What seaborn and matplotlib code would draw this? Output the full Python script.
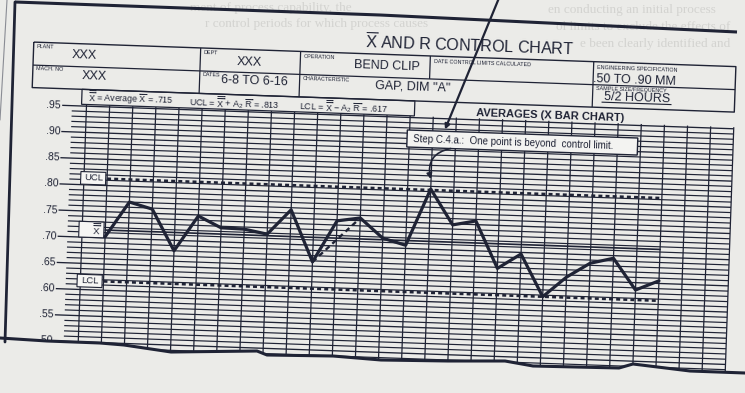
import numpy as np
import pandas as pd
import matplotlib
matplotlib.use("Agg")
import matplotlib.pyplot as plt
from matplotlib import font_manager
from matplotlib.transforms import Affine2D
from matplotlib.patches import Rectangle, FancyArrowPatch, Polygon
import seaborn as sns

# ---------------- data ----------------
subgroup = list(range(1, 26))
xbar = [0.702, 0.770, 0.758, 0.680, 0.748, 0.727, 0.726, 0.718, 0.766, 0.668,
        0.748, 0.755, 0.718, 0.706, 0.815, 0.748, 0.757, 0.668, 0.697, 0.617,
        0.656, 0.684, 0.695, 0.636, 0.655]
revised_from, revised_to = 10, 12
grand_mean = 0.715
ucl = 0.813
lcl = 0.617
y_tick_values = [0.95, 0.90, 0.85, 0.80, 0.75, 0.70, 0.65, 0.60, 0.55, 0.50]
y_tick_labels = [".95", ".90", ".85", ".80", ".75", ".70", ".65", ".60", ".55", ".50"]

# ---------------- style ----------------
sns.set_theme(style="white")
names = {f.name for f in font_manager.fontManager.ttflist}
SANS = "Liberation Sans" if "Liberation Sans" in names else "DejaVu Sans"
NARROW = "Liberation Sans Narrow" if "Liberation Sans Narrow" in names else SANS
SERIF = "Liberation Serif" if "Liberation Serif" in names else "DejaVu Serif"
plt.rcParams["font.family"] = [SANS, "DejaVu Sans"]
plt.rcParams["mathtext.fontset"] = "custom"
plt.rcParams["mathtext.rm"] = SANS
plt.rcParams["mathtext.it"] = SANS + ":italic"
plt.rcParams["mathtext.bf"] = SANS + ":bold"

INK = "#1f2335"
PAPER = "#ebebe8"
W, H = 745, 393
ROT = -2.0
R = Affine2D().rotate_deg_around(372, H - 200, ROT)

fig = plt.figure(figsize=(W / 100, H / 100), dpi=100, facecolor=PAPER)

# background page (faint bleed-through text)
ax_bg = fig.add_axes([0, 0, 1, 1], zorder=0)
ax_bg.set_xlim(0, W); ax_bg.set_ylim(H, 0); ax_bg.axis("off")
bleed = [(190, 8, "ment of process capability, the"),
         (205, 24, "r control periods for which process causes"),
         (548, 10, "en conducting an initial process"),
         (556, 27, "ol limits to exclude the effects of"),
         (580, 44, "e been clearly identified and")]
for bx, by, bs in bleed:
    ax_bg.text(bx, by, bs, family=SERIF, fontsize=9.5, color="#d3d3d0",
               va="center", ha="left", clip_on=True)

# ---------------- chart axes ----------------
U1, US = 106.5, 23.13      # pixel of subgroup 1, pixel per subgroup
V70, VS = 247.2, 524.0     # pixel of value .70, pixel per unit value
xl = (-2.0, 28.5)
yl = (0.45, 0.97)
u_l = U1 + US * (xl[0] - 1); u_r = U1 + US * (xl[1] - 1)
v_b = V70 + (0.70 - yl[0]) * VS; v_t = V70 + (0.70 - yl[1]) * VS
ax = fig.add_axes([u_l / W, (H - v_b) / H, (u_r - u_l) / W, (v_b - v_t) / H], zorder=1)

# grid
minor = np.round(np.arange(0.47, 0.955, 0.01), 2)
is_major = np.array([np.any(np.isclose(m, y_tick_values)) for m in minor])
ax.hlines(minor[~is_major], -0.63, 28.0, color=INK, lw=0.85)
ax.hlines(minor[is_major], -1.05, 28.0, color=INK, lw=0.95)
ax.vlines(np.arange(0, 29), 0.455, 0.953, color=INK, lw=0.9)
for val, lab in zip(y_tick_values, y_tick_labels):
    ax.text(-1.1, val, lab, ha="right", va="center", fontsize=7.5, color=INK,
            rotation=ROT, rotation_mode="anchor")

# control lines
for val, ls, lw in [(ucl, (0, (1.5, 1.2)), 1.9), (lcl, (0, (1.5, 1.2)), 1.9),
                    (grand_mean, "-", 1.2)]:
    ldf = pd.DataFrame({"subgroup": [subgroup[0], subgroup[-1]], "value": [val, val]})
    sns.lineplot(data=ldf, x="subgroup", y="value", ax=ax, color=INK, linewidth=lw,
                 errorbar=None, legend=False, zorder=3)
    ax.lines[-1].set_linestyle(ls)

# data
df = pd.DataFrame({"subgroup": subgroup, "xbar": xbar})
sns.lineplot(data=df, x="subgroup", y="xbar", ax=ax, color=INK, linewidth=2.3,
             errorbar=None, legend=False, zorder=4)
rev = df[df["subgroup"].between(revised_from, revised_to)].iloc[[0, -1]]
sns.lineplot(data=rev, x="subgroup", y="xbar", ax=ax, color=INK, linewidth=1.7,
             errorbar=None, legend=False, zorder=4)
ax.lines[-1].set_linestyle((0, (2.2, 1.6)))

# limit label boxes
for val, lab, hh, cx in [(ucl, "UCL", 0.012, 0.42), (lcl, "LCL", 0.012, 0.40),
                         (grand_mean, r"$\overline{\overline{\mathrm{X}}}$", 0.015, 0.62)]:
    ax.add_patch(Rectangle((-0.14, val - hh), 1.08, 2 * hh, fc="#f6f6f4", ec=INK, lw=0.8, zorder=5))
    ax.text(cx, val, lab, ha="center", va="center", fontsize=6.8, color=INK, zorder=6,
            rotation=ROT, rotation_mode="anchor")

# annotation
ax.add_patch(Rectangle((13.9, 0.8935), 9.97, 0.0325, fc="#f3f3f1", ec=INK, lw=1.0, zorder=5))
ax.text(14.15, 0.910, "Step C.4.a.:  One point is beyond  control limit.", ha="left",
        va="center", fontsize=7.0, color=INK, family=NARROW, zorder=6,
        rotation=ROT, rotation_mode="anchor")
ax.add_patch(FancyArrowPatch(posA=(15.8, 0.8935), posB=(14.98, 0.834),
                             connectionstyle="arc3,rad=0.5", arrowstyle="-|>",
                             mutation_scale=8, lw=1.2, color=INK, shrinkA=0, shrinkB=0,
                             zorder=6))

ax.set_xlim(*xl); ax.set_ylim(*yl)
ax.axis("off")
for art in list(ax.lines) + list(ax.collections) + list(ax.patches) + list(ax.texts):
    art.set_transform(ax.transData + R)
    art.set_clip_on(False)

# ---------------- overlay: header, frame, tear ----------------
ax_top = fig.add_axes([0, 0, 1, 1], zorder=2)
ax_top.set_xlim(0, W); ax_top.set_ylim(H, 0); ax_top.axis("off")
TR = ax_top.transData + R

def rline(xs, ys, lw=0.9):
    ax_top.plot(xs, ys, color=INK, lw=lw, transform=TR, clip_on=False, solid_capstyle="butt")

def rtext(x, y, s, **kw):
    kw.setdefault("color", INK)
    return ax_top.text(x, y, s, transform=TR, rotation=ROT, rotation_mode="anchor",
                       clip_on=False, **kw)

HL, HR = 28.5, 731.0
HT, HM, HB = 54.0, 77.0, 99.5
rline([HL, HR, HR, HL, HL], [HT, HT, HB, HB, HT], lw=1.0)
rline([HL, HR], [HM, HM])
for u in (195.5, 295.5, 588.8):
    rline([u, u], [HT, HB])
rline([425.3, 425.3], [HT, HM])

small = dict(fontsize=3.9, ha="left", va="center")
rtext(31.5, 58.5, "PLANT", **small)
rtext(198.5, 58.5, "DEPT", **small)
rtext(298.5, 58.5, "OPERATION", **small)
rtext(429.0, 59.5, "DATE CONTROL LIMITS CALCULATED", **small)
rtext(592.0, 60.0, "ENGINEERING SPECIFICATION", **small)
rtext(31.5, 80.5, "MACH. NO", **small)
rtext(198.5, 80.5, "DATES", **small)
rtext(298.5, 80.5, "CHARACTERISTIC", **small)
rtext(592.0, 81.0, "SAMPLE SIZE/FREQUENCY", **small)

big = dict(fontsize=9, ha="center", va="center")
rtext(79.5, 65.5, "XXX", **big)
rtext(245.0, 66.3, "XXX", **big)
rtext(382.0, 65.5, "BEND CLIP", **big)
rtext(90.7, 86.0, "XXX", **big)
rtext(250.8, 85.0, "6-8 TO 6-16", **big)
rtext(408.5, 85.0, 'GAP, DIM "A"', **big)
rtext(630.3, 71.0, ".50 TO .90 MM", **big)
rtext(633.0, 88.5, "5/2 HOURS", **big)
rline([598, 668], [94.2, 94.2], lw=0.8)

rtext(464.6, 42.6, r"$\overline{\mathrm{X}}$ AND R CONTROL CHART", fontsize=11.5,
      ha="center", va="center", family=NARROW)

# formula box
ax_top.add_patch(Rectangle((78.4, 99.5), 333.0, 15.0, fc="none", ec=INK, lw=0.9,
                           transform=TR, clip_on=False))
fsz = 6.3
rtext(84.5, 107.3, r"$\overline{\overline{\mathrm{X}}}$ = Average $\overline{\mathrm{X}}$ = .715",
      fontsize=fsz, ha="left", va="center")
rtext(186.0, 107.3, r"UCL = $\overline{\overline{\mathrm{X}}}$ + $\mathrm{A}_2$ $\overline{\mathrm{R}}$ = .813",
      fontsize=fsz, ha="left", va="center")
rtext(296.0, 107.3, r"LCL = $\overline{\overline{\mathrm{X}}}$ $-$ $\mathrm{A}_2$ $\overline{\mathrm{R}}$ = .617",
      fontsize=fsz, ha="left", va="center")

rtext(547.0, 109.3, "AVERAGES (X BAR CHART)", fontsize=8, fontweight="bold",
      ha="center", va="center")

# page frame (scan edges)
ax_top.plot([15, 380, 737], [2, 15, 32], color=INK, lw=2.2, solid_capstyle="butt")
ax_top.plot([15, 5], [2, 342], color=INK, lw=2.0)
ax_top.plot([7, 0], [0, 120], color="#8a8c94", lw=0.8)

# pointer line from the page text
ax_top.add_patch(FancyArrowPatch(posA=(499, -2), posB=(445, 129.5), arrowstyle="-|>",
                                 mutation_scale=7, lw=1.6, color=INK, shrinkA=0, shrinkB=0))

# torn bottom edge
tear_x = [0, 47, 100, 124, 171, 257, 267, 333, 381, 448, 505, 533, 619, 633, 690, 745]
tear_y = [338, 341, 343, 345, 352, 351, 355, 356, 360, 361, 361, 366, 368, 364, 371, 373]
ax_top.add_patch(Polygon(list(zip(tear_x, tear_y)) + [(W, H), (0, H)], closed=True,
                         fc=PAPER, ec="none", zorder=1))
ax_top.plot(tear_x, tear_y, color=INK, lw=2.2, zorder=2)

fig.savefig("out.png", dpi=100, facecolor=PAPER)
